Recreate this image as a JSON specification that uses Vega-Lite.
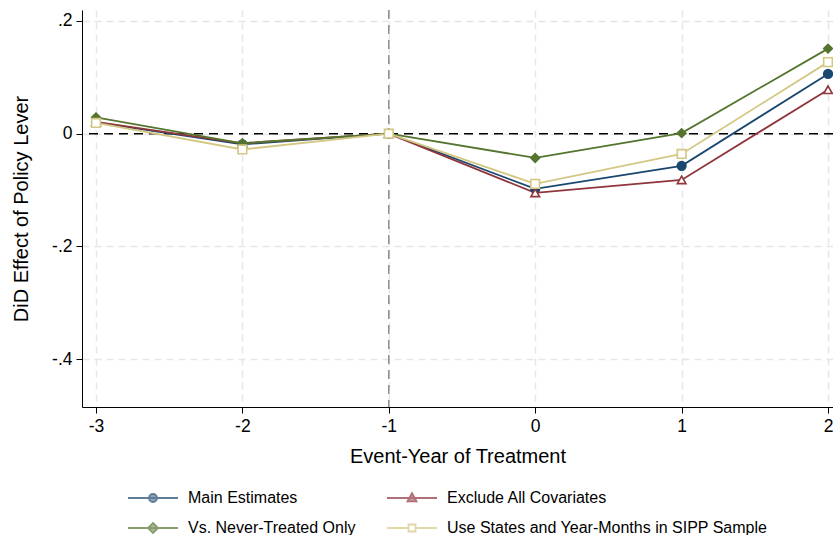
{
  "$schema": "https://vega.github.io/schema/vega-lite/v6.json",
  "autosize": "none",
  "width": 751,
  "height": 397,
  "padding": {"left": 82, "top": 10, "right": 0, "bottom": 128},
  "background": "white",
  "config": {
    "font": "Liberation Sans",
    "view": {"stroke": null},
    "axis": {
      "domainColor": "#000000",
      "domainWidth": 1,
      "tickColor": "#000000",
      "tickSize": 6,
      "labelColor": "#000000",
      "titleColor": "#000000",
      "labelFont": "Liberation Sans",
      "titleFont": "Liberation Sans",
      "labelFontSize": 17.5,
      "titleFontSize": 20,
      "titleFontWeight": "normal",
      "gridColor": "#e6e6e6",
      "gridDash": [7, 5],
      "gridWidth": 1.5
    },
    "legend": {
      "labelFont": "Liberation Sans",
      "labelFontSize": 16,
      "labelColor": "#000000",
      "labelLimit": 0,
      "padding": 0
    }
  },
  "resolve": {"scale": {"shape": "independent", "fill": "independent", "stroke": "independent"}},
  "datasets": {
    "estimates": [
      {"event": -3, "series": "Main Estimates", "effect": 0.020},
      {"event": -2, "series": "Main Estimates", "effect": -0.019},
      {"event": -1, "series": "Main Estimates", "effect": 0.0},
      {"event": 0, "series": "Main Estimates", "effect": -0.098},
      {"event": 1, "series": "Main Estimates", "effect": -0.057},
      {"event": 2, "series": "Main Estimates", "effect": 0.106},
      {"event": -3, "series": "Exclude All Covariates", "effect": 0.021},
      {"event": -2, "series": "Exclude All Covariates", "effect": -0.017},
      {"event": -1, "series": "Exclude All Covariates", "effect": 0.0},
      {"event": 0, "series": "Exclude All Covariates", "effect": -0.105},
      {"event": 1, "series": "Exclude All Covariates", "effect": -0.082},
      {"event": 2, "series": "Exclude All Covariates", "effect": 0.078},
      {"event": -3, "series": "Vs. Never-Treated Only", "effect": 0.029},
      {"event": -2, "series": "Vs. Never-Treated Only", "effect": -0.017},
      {"event": -1, "series": "Vs. Never-Treated Only", "effect": 0.0},
      {"event": 0, "series": "Vs. Never-Treated Only", "effect": -0.043},
      {"event": 1, "series": "Vs. Never-Treated Only", "effect": 0.001},
      {"event": 2, "series": "Vs. Never-Treated Only", "effect": 0.151},
      {"event": -3, "series": "Use States and Year-Months in SIPP Sample", "effect": 0.019},
      {"event": -2, "series": "Use States and Year-Months in SIPP Sample", "effect": -0.028},
      {"event": -1, "series": "Use States and Year-Months in SIPP Sample", "effect": 0.0},
      {"event": 0, "series": "Use States and Year-Months in SIPP Sample", "effect": -0.089},
      {"event": 1, "series": "Use States and Year-Months in SIPP Sample", "effect": -0.036},
      {"event": 2, "series": "Use States and Year-Months in SIPP Sample", "effect": 0.127}
    ]
  },
  "layer": [
    {
      "data": {"values": [{"event": -1}]},
      "mark": {"type": "rule", "color": "#8c8c8c", "strokeWidth": 1.5, "strokeDash": [9, 6]},
      "encoding": {
        "x": {"field": "event", "type": "quantitative"}
      }
    },
    {
      "data": {"values": [{"effect": 0}]},
      "mark": {"type": "rule", "color": "#000000", "strokeWidth": 1.5, "strokeDash": [9, 6]},
      "encoding": {
        "y": {"field": "effect", "type": "quantitative"}
      }
    },
    {
      "data": {"name": "estimates"},
      "mark": {"type": "line", "strokeWidth": 1.8},
      "encoding": {
        "x": {
          "field": "event", "type": "quantitative",
          "scale": {"domain": [-3.0956, 2.034], "nice": false, "zero": false},
          "axis": {
            "title": "Event-Year of Treatment",
            "values": [-3, -2, -1, 0, 1, 2],
            "labelExpr": "(datum.value < 0 ? '-' : '') + abs(datum.value)",
            "labelPadding": 4,
            "titlePadding": 12,
            "grid": true
          }
        },
        "y": {
          "field": "effect", "type": "quantitative",
          "scale": {"domain": [-0.485, 0.2195], "nice": false, "zero": false},
          "axis": {
            "title": "DiD Effect of Policy Lever",
            "values": [-0.4, -0.2, 0, 0.2],
            "labelExpr": "datum.value == 0 ? '0' : (datum.value < 0 ? '-' : '') + replace(format(abs(datum.value), '.1f'), '0.', '.')",
            "labelPadding": 4,
            "titlePadding": 20,
            "grid": true
          }
        },
        "detail": {"field": "series"},
        "color": {
          "field": "series", "type": "nominal",
          "scale": {
            "domain": ["Use States and Year-Months in SIPP Sample", "Vs. Never-Treated Only", "Exclude All Covariates", "Main Estimates"],
            "range": ["#d3c883", "#55752f", "#90353b", "#1a476f"]
          },
          "legend": null
        }
      }
    },
    {
      "data": {"name": "estimates"},
      "mark": {"type": "point", "size": 75, "strokeWidth": 1.6, "opacity": 1},
      "encoding": {
        "x": {"field": "event", "type": "quantitative"},
        "y": {"field": "effect", "type": "quantitative"},
        "shape": {
          "field": "series", "type": "nominal",
          "scale": {
            "domain": ["Use States and Year-Months in SIPP Sample", "Vs. Never-Treated Only", "Exclude All Covariates", "Main Estimates"],
            "range": ["square", "diamond", "triangle-up", "circle"]
          },
          "legend": null
        },
        "fill": {
          "field": "series", "type": "nominal",
          "scale": {
            "domain": ["Use States and Year-Months in SIPP Sample", "Vs. Never-Treated Only", "Exclude All Covariates", "Main Estimates"],
            "range": ["#ffffff", "#55752f", "#ffffff", "#1a476f"]
          },
          "legend": null
        },
        "stroke": {
          "field": "series", "type": "nominal",
          "scale": {
            "domain": ["Use States and Year-Months in SIPP Sample", "Vs. Never-Treated Only", "Exclude All Covariates", "Main Estimates"],
            "range": ["#d3c883", "#55752f", "#90353b", "#1a476f"]
          },
          "legend": null
        }
      }
    },
    {
      "data": {"name": "estimates"},
      "mark": {"type": "point", "size": 0, "strokeWidth": 0},
      "encoding": {
        "x": {"field": "event", "type": "quantitative"},
        "y": {"field": "effect", "type": "quantitative"},
        "stroke": {
          "field": "series", "type": "nominal",
          "scale": {
            "domain": ["Main Estimates", "Exclude All Covariates", "Vs. Never-Treated Only", "Use States and Year-Months in SIPP Sample"],
            "range": ["#1a476f", "#90353b", "#55752f", "#d3c883"]
          }
        },
        "fill": {
          "field": "series", "type": "nominal",
          "scale": {
            "domain": ["Main Estimates", "Exclude All Covariates", "Vs. Never-Treated Only", "Use States and Year-Months in SIPP Sample"],
            "range": ["#1a476f", "#90353b", "#55752f", "#ffffff"]
          }
        },
        "shape": {
          "field": "series", "type": "nominal",
          "scale": {
            "domain": ["Main Estimates", "Exclude All Covariates", "Vs. Never-Treated Only", "Use States and Year-Months in SIPP Sample"],
            "range": [
              "M-2.5,0H2.5M0.4,0A0.4,0.4,0,1,1,-0.4,0A0.4,0.4,0,1,1,0.4,0Z",
              "M-2.5,0H2.5M0,-0.48L0.45,0.33L-0.45,0.33Z",
              "M-2.5,0H2.5M0,-0.5L0.5,0L0,0.5L-0.5,0Z",
              "M-2.5,0H-0.35M0.35,0H2.5M-0.35,-0.35H0.35V0.35H-0.35Z"
            ]
          },
          "legend": {
            "title": null,
            "orient": "none",
            "direction": "horizontal",
            "legendX": 46,
            "legendY": 477,
            "columns": 2,
            "columnPadding": 27,
            "rowPadding": 11,
            "symbolSize": 400,
            "symbolOffset": 14,
            "symbolStrokeWidth": 1.8,
            "labelOffset": 24,
            "encode": {
              "symbols": {
                "size": {"value": 400},
                "strokeWidth": {"value": 1.8},
                "opacity": {"value": 1}
              }
            }
          }
        }
      }
    }
  ]
}
